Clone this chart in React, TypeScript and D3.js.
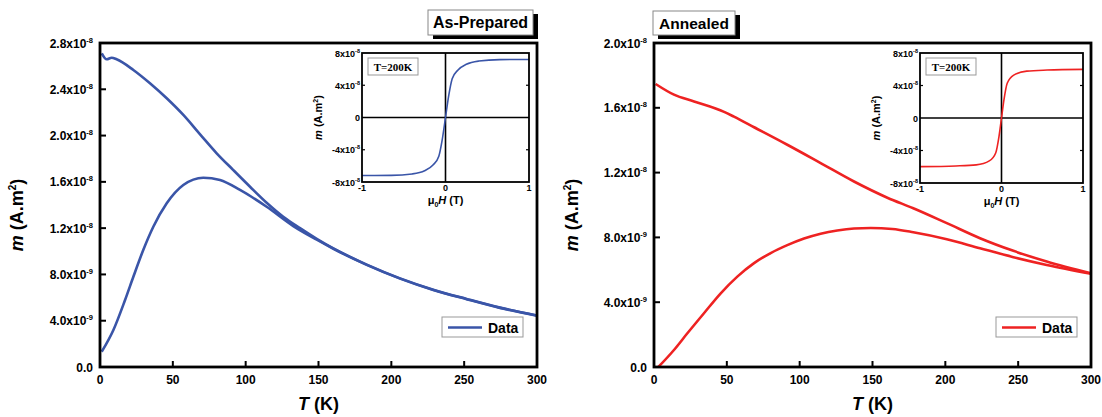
import React from 'react';
import * as d3 from 'd3';

// ---------- DATA (moment in units of 1e-8 A.m^2) ----------
const tempTicks = [0, 50, 100, 150, 200, 250, 300];

const apYTicks = [0, 0.4, 0.8, 1.2, 1.6, 2.0, 2.4, 2.8];
const apYMant = ['0.0', '4.0', '8.0', '1.2', '1.6', '2.0', '2.4', '2.8'];
const apYExp = ['', '-9', '-9', '-8', '-8', '-8', '-8', '-8'];

const anYTicks = [0, 0.4, 0.8, 1.2, 1.6, 2.0];
const anYMant = ['0.0', '4.0', '8.0', '1.2', '1.6', '2.0'];
const anYExp = ['', '-9', '-9', '-8', '-8', '-8'];

const insetYTicks = [-8, -4, 0, 4, 8];
const insetYMant = ['-8x10', '-4x10', '0', '4x10', '8x10'];
const insetYExp = ['-8', '-8', '', '-8', '-8'];
const insetXTicks = [-1, 0, 1];

// As-prepared: field-cooled branch (upper)
const apFC: [number, number][] = [
  [1.2, 2.711], [4.6, 2.659], [8.0, 2.673], [11.4, 2.659], [22.9, 2.567], [34.3, 2.452],
  [45.8, 2.322], [57.2, 2.178], [68.7, 2.011], [80.1, 1.847], [91.5, 1.702], [103, 1.558],
  [114.4, 1.420], [125.8, 1.299], [137.3, 1.200], [148.8, 1.108], [160.2, 1.025],
  [183.1, 0.885], [206, 0.766], [228.8, 0.668], [251.7, 0.588], [274.6, 0.513], [300, 0.445],
];
// As-prepared: zero-field-cooled branch (lower)
const apZFC: [number, number][] = [
  [1.2, 0.132], [9.2, 0.320], [17.2, 0.579], [22.9, 0.780], [29.7, 1.011], [36.6, 1.212],
  [45.8, 1.415], [57.2, 1.573], [70.9, 1.636], [82.4, 1.616], [96.1, 1.530], [114.4, 1.385],
  [132.7, 1.218], [148.8, 1.100], [160.2, 1.022], [183.1, 0.883], [206, 0.764],
  [228.8, 0.666], [251.7, 0.586], [274.6, 0.511], [300, 0.443],
];
// Annealed: field-cooled branch
const anFC: [number, number][] = [
  [1.1, 1.747], [13.7, 1.681], [27.5, 1.639], [48.1, 1.575], [54.9, 1.545], [68.7, 1.480],
  [91.5, 1.372], [114.4, 1.259], [137.3, 1.145], [160.2, 1.045], [178, 0.980], [201, 0.888],
  [223.8, 0.795], [246.7, 0.717], [269.6, 0.651], [300, 0.578],
];
// Annealed: zero-field-cooled branch
const anZFC: [number, number][] = [
  [3, 0.0], [13.7, 0.105], [22.9, 0.208], [34.3, 0.332], [45.8, 0.455], [57.2, 0.558],
  [68.7, 0.641], [80.1, 0.703], [91.5, 0.752], [103, 0.793], [114.4, 0.823], [125.8, 0.843],
  [137.3, 0.855], [148.8, 0.858], [163.6, 0.852], [178, 0.832], [201, 0.789], [223.8, 0.733],
  [246.7, 0.678], [269.6, 0.630], [300, 0.575],
];
// Insets: M(H) at T = 200 K (H in T, m in 1e-8)
const apMH: [number, number][] = [
  [-1, -7.2], [-0.65, -7.18], [-0.4, -7.0], [-0.25, -6.6], [-0.15, -5.9], [-0.08, -4.8],
  [-0.04, -2.8], [0, 0], [0.04, 2.8], [0.08, 4.8], [0.15, 5.9], [0.25, 6.6], [0.4, 7.0],
  [0.65, 7.18], [1, 7.2],
];
const anMH: [number, number][] = [
  [-1, -5.98], [-0.56, -5.9], [-0.31, -5.77], [-0.15, -5.28], [-0.07, -4.27], [-0.03, -2.23],
  [0, 0], [0.03, 2.23], [0.07, 4.27], [0.15, 5.28], [0.31, 5.77], [0.56, 5.9], [1, 5.98],
];

const FONT = '"Liberation Sans", Arial, Helvetica, sans-serif';
const SERIF = '"Liberation Serif", "Times New Roman", serif';

interface PanelCfg {
  x0: number; x1: number; y0: number; y1: number;
  yMax: number; yTicks: number[]; yMant: string[]; yExp: string[];
  color: string; fc: [number, number][]; zfc: [number, number][];
  mh: [number, number][];
  ix0: number; ix1: number; iy0: number; iy1: number;
  title: string; tb: { x: number; y: number; w: number; h: number; fs: number };
  yTitleX: number;
}

const panels: PanelCfg[] = [
  {
    x0: 100, x1: 537, y0: 43, y1: 367, yMax: 2.8, yTicks: apYTicks, yMant: apYMant, yExp: apYExp,
    color: '#3a55a8', fc: apFC, zfc: apZFC, mh: apMH,
    ix0: 362, ix1: 529, iy0: 53, iy1: 182,
    title: 'As-Prepared', tb: { x: 428, y: 10, w: 105, h: 25, fs: 16 }, yTitleX: 23,
  },
  {
    x0: 654, x1: 1091, y0: 43, y1: 367, yMax: 2.0, yTicks: anYTicks, yMant: anYMant, yExp: anYExp,
    color: '#ee2222', fc: anFC, zfc: anZFC, mh: anMH,
    ix0: 920, ix1: 1083, iy0: 53, iy1: 183,
    title: 'Annealed', tb: { x: 653, y: 11, w: 82, h: 24, fs: 15.5 }, yTitleX: 578,
  },
];

function Panel({ p }: { p: PanelCfg }) {
  const x = d3.scaleLinear().domain([0, 300]).range([p.x0, p.x1]);
  const y = d3.scaleLinear().domain([0, p.yMax]).range([p.y1, p.y0]);
  const line = d3.line<[number, number]>().x(d => x(d[0])).y(d => y(d[1])).curve(d3.curveMonotoneX);

  const ix = d3.scaleLinear().domain([-1, 1]).range([p.ix0, p.ix1]);
  const iy = d3.scaleLinear().domain([-8, 8]).range([p.iy1, p.iy0]);
  const iline = d3.line<[number, number]>().x(d => ix(d[0])).y(d => iy(d[1])).curve(d3.curveMonotoneX);

  const cx = (p.x0 + p.x1) / 2;
  const icy = (p.iy0 + p.iy1) / 2;
  const lgX = p.x1 - 95;
  const lgY = 317;

  return (
    <g fontFamily={FONT} fontWeight="bold">
      {/* curves */}
      <path d={line(p.zfc) || ''} fill="none" stroke={p.color} strokeWidth={2.6} />
      <path d={line(p.fc) || ''} fill="none" stroke={p.color} strokeWidth={2.6} />

      {/* frame */}
      <rect x={p.x0} y={p.y0} width={p.x1 - p.x0} height={p.y1 - p.y0} fill="none" stroke="#000" strokeWidth={2.8} />

      {/* x ticks */}
      {tempTicks.map(t => (
        <g key={'xt' + t}>
          {t > 0 && t < 300 && <line x1={x(t)} x2={x(t)} y1={p.y1} y2={p.y1 - 6} stroke="#000" strokeWidth={2} />}
          <text x={x(t)} y={384} textAnchor="middle" fontSize={12}>{t}</text>
        </g>
      ))}
      {/* y ticks */}
      {p.yTicks.map((v, i) => (
        <g key={'yt' + i}>
          {v > 0 && v < p.yMax && <line x1={p.x0} x2={p.x0 + 6} y1={y(v)} y2={y(v)} stroke="#000" strokeWidth={2} />}
          <text x={p.x0 - 7} y={y(v) + 4.5} textAnchor="end" fontSize={12}>
            {p.yMant[i] === '0.0' ? '0.0' : p.yMant[i] + 'x10'}
            {p.yExp[i] && <tspan dy={-5} fontSize={7.5}>{p.yExp[i]}</tspan>}
          </text>
        </g>
      ))}

      {/* axis titles */}
      <text x={cx} y={410} textAnchor="middle" fontSize={18}>
        <tspan fontStyle="italic">T</tspan> (K)
      </text>
      <text transform={`translate(${p.yTitleX},${215}) rotate(-90)`} textAnchor="middle" fontSize={18}>
        <tspan fontStyle="italic">m</tspan> (A.m<tspan dy={-7} fontSize={10}>2</tspan><tspan dy={7}>)</tspan>
      </text>

      {/* title box */}
      <rect x={p.tb.x + 5} y={p.tb.y + 4} width={p.tb.w} height={p.tb.h} fill="#000" />
      <rect x={p.tb.x} y={p.tb.y} width={p.tb.w} height={p.tb.h} fill="#fff" stroke="#888" strokeWidth={1} />
      <text x={p.tb.x + p.tb.w / 2} y={p.tb.y + p.tb.h / 2 + 5.5} textAnchor="middle" fontSize={p.tb.fs}>{p.title}</text>

      {/* legend */}
      <rect x={lgX} y={lgY} width={81} height={20} fill="#fff" stroke="#999" strokeWidth={1} />
      <line x1={lgX + 6} x2={lgX + 40} y1={lgY + 10.5} y2={lgY + 10.5} stroke={p.color} strokeWidth={2.6} />
      <text x={lgX + 46} y={lgY + 15.5} fontSize={14}>Data</text>

      {/* inset */}
      <line x1={p.ix0} x2={p.ix1} y1={iy(0)} y2={iy(0)} stroke="#000" strokeWidth={1.6} />
      <line x1={ix(0)} x2={ix(0)} y1={p.iy0} y2={p.iy1} stroke="#000" strokeWidth={1.6} />
      <path d={iline(p.mh) || ''} fill="none" stroke={p.color} strokeWidth={1.6} />
      <rect x={p.ix0} y={p.iy0} width={p.ix1 - p.ix0} height={p.iy1 - p.iy0} fill="none" stroke="#000" strokeWidth={1.8} />
      {insetYTicks.map((v, i) => (
        <g key={'iyt' + i}>
          {v !== 0 && Math.abs(v) < 8 && (
            <>
              <line x1={p.ix0} x2={p.ix0 + 3} y1={iy(v)} y2={iy(v)} stroke="#000" strokeWidth={1.2} />
              <line x1={p.ix1} x2={p.ix1 - 3} y1={iy(v)} y2={iy(v)} stroke="#000" strokeWidth={1.2} />
            </>
          )}
          <text x={p.ix0 - 2} y={iy(v) + 3.5} textAnchor="end" fontSize={9}>
            {insetYMant[i]}
            {insetYExp[i] && <tspan dy={-4} fontSize={5.5}>{insetYExp[i]}</tspan>}
          </text>
        </g>
      ))}
      {insetXTicks.map(v => (
        <text key={'ixt' + v} x={ix(v)} y={p.iy1 + 9} textAnchor="middle" fontSize={9}>{v}</text>
      ))}
      <text x={ix(0)} y={p.iy1 + 22} textAnchor="middle" fontSize={11}>
        μ<tspan dy={3} fontSize={7}>0</tspan><tspan dy={-3} fontStyle="italic">H</tspan> (T)
      </text>
      <text transform={`translate(${p.ix0 - 40},${icy}) rotate(-90)`} textAnchor="middle" fontSize={11}>
        <tspan fontStyle="italic">m</tspan> (A.m<tspan dy={-4} fontSize={7}>2</tspan><tspan dy={4}>)</tspan>
      </text>
      <rect x={p.ix0 + 6} y={p.iy0 + 5} width={50} height={17} fill="#fff" stroke="#999" strokeWidth={1} />
      <text x={p.ix0 + 31} y={p.iy0 + 18} textAnchor="middle" fontSize={11} fontFamily={SERIF}>T=200K</text>
    </g>
  );
}

export default function App() {
  return (
    <svg width={1102} height={417} style={{ position: 'absolute', left: 0, top: 0, background: '#fff' }}>
      {panels.map((p, i) => <Panel key={i} p={p} />)}
    </svg>
  );
}
